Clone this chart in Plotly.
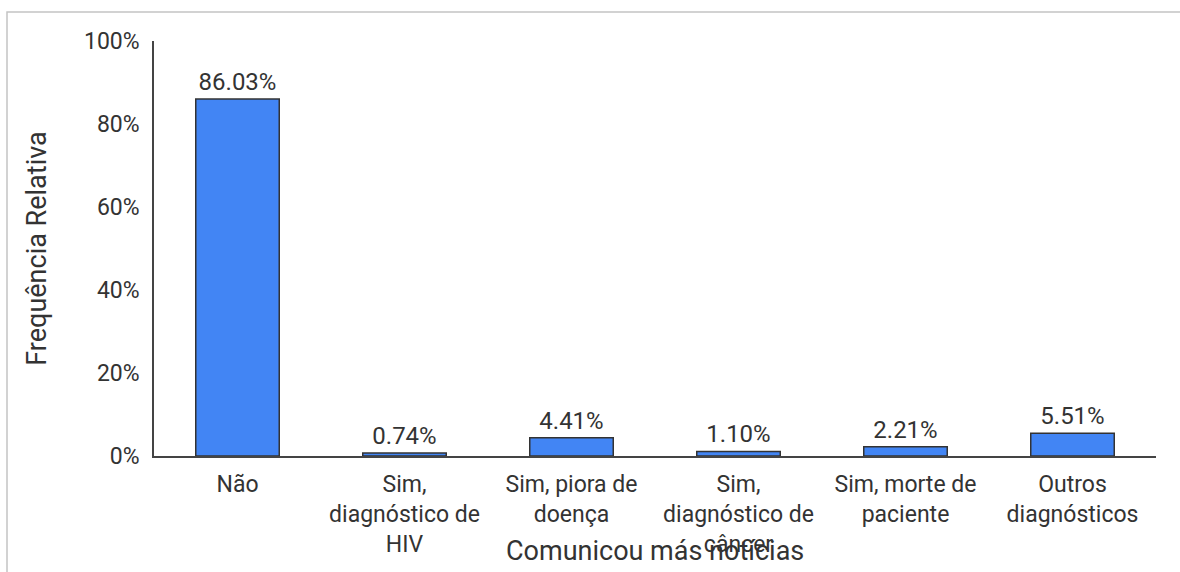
import plotly.graph_objects as go

categories = ["Não", "Sim,<br>diagnóstico de<br>HIV", "Sim, piora de<br>doença",
              "Sim,<br>diagnóstico de<br>câncer", "Sim, morte de<br>paciente", "Outros<br>diagnósticos"]
values = [86.03, 0.74, 4.41, 1.10, 2.21, 5.51]
y_ticks = [0, 20, 40, 60, 80, 100]
y_ticktext = ["0%", "20%", "40%", "60%", "80%", "100%"]
x_title = "Comunicou más notícias"
y_title = "Frequência Relativa"

FONT = "Roboto"
FS = 23
FS_TITLE = 27
TXT = "#333333"
W, H = 1180, 572
L, R, T, B = 154, 24, 41, 116

fig = go.Figure()
fig.add_trace(go.Bar(
    x=categories, y=values,
    marker=dict(color="#4285F4", line=dict(color="#333333", width=1.5)),
    width=0.5,
    texttemplate="%{y:.2f}%", textposition="outside",
    textfont=dict(family=FONT, size=24, color=TXT),
    cliponaxis=False,
))

pw = W - L - R
ph = H - T - B
fig.add_shape(type="rect", xref="paper", yref="paper",
              x0=(7 - L) / pw, x1=(W + 20 - L) / pw,
              y0=(H - B - (H + 20)) / ph, y1=(H - B - 12) / ph,
              line=dict(color="#c4c4c4", width=1.5), fillcolor="rgba(0,0,0,0)", layer="below")

# x-axis title placed as an annotation so it can sit as close to the tick labels as in the reference
fig.add_annotation(text=x_title, xref="paper", yref="paper", x=0.5, y=(H - B - 551) / ph,
                   xanchor="center", yanchor="middle", showarrow=False,
                   font=dict(family=FONT, size=FS_TITLE, color=TXT))

# pad shorter tick labels with figure spaces so they line up on the left
pad = max(len(t) for t in y_ticktext)
y_ticktext_padded = ["\u2007" * (pad - len(t)) + t for t in y_ticktext]

fig.update_layout(
    width=W, height=H,
    margin=dict(l=L, r=R, t=T, b=B, pad=0),
    paper_bgcolor="white", plot_bgcolor="white",
    font=dict(family=FONT, size=FS, color=TXT),
    showlegend=False,
    bargap=0.5,
)
fig.update_xaxes(
    showline=True, linecolor="#444444", linewidth=1.5,
    showgrid=False, ticks="", tickfont=dict(family=FONT, size=FS, color=TXT),
    tickangle=0, automargin=False, ticklabelstandoff=7,
)
fig.update_yaxes(
    title=dict(text=y_title, font=dict(family=FONT, size=FS_TITLE, color=TXT), standoff=30),
    range=[0, 100], tickvals=y_ticks, ticktext=y_ticktext_padded,
    showline=True, linecolor="#444444", linewidth=1.5,
    showgrid=False, zeroline=False, ticks="", ticklabelstandoff=8,
    tickfont=dict(family=FONT, size=FS, color=TXT), automargin=False,
)

fig.write_html("out.html")
